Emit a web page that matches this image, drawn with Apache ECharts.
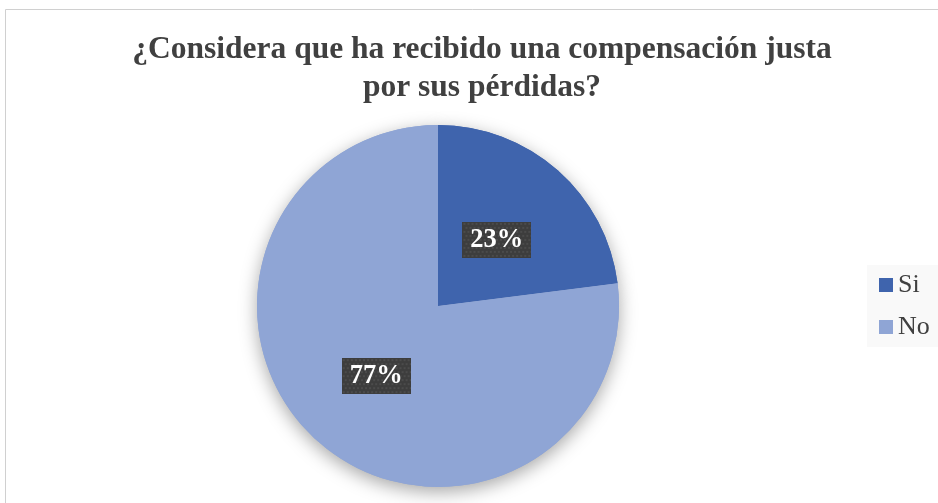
<!DOCTYPE html>
<html>
<head>
<meta charset="utf-8">
<script src="https://cdn.jsdelivr.net/npm/echarts@6/dist/echarts.min.js"></script>
<style>
html,body{margin:0;padding:0;background:#fff;}
#chart{width:938px;height:503px;}
</style>
</head>
<body>
<div id="chart"></div>
<script>
const titleText = '¿Considera que ha recibido una compensación justa\npor sus pérdidas?';
const categories = ['Si', 'No'];
const values = [23, 77];
const colors = ['#3F64AD', '#8FA5D5'];
const labelOffsets = [[-3, 4], [0, 0]];

function makePattern(w, h) {
  const c = document.createElement('canvas');
  c.width = w; c.height = h;
  const ctx = c.getContext('2d');
  ctx.fillStyle = '#3d3d3d';
  ctx.fillRect(0, 0, w, h);
  ctx.fillStyle = '#4b4b4b';
  for (let y = 1; y < h; y += 4) {
    for (let x = ((y - 1) / 4) % 2 ? 3 : 1; x < w; x += 4) {
      ctx.fillRect(x, y, 2, 2);
    }
  }
  return c;
}
const pattern = makePattern(68, 36);

const chart = echarts.init(document.getElementById('chart'), null, {renderer: 'canvas'});
const pieData = categories.map((n, i) => ({name: n, value: values[i], itemStyle: {color: colors[i]}}));
const pieDataLabeled = categories.map((n, i) => ({
  name: n, value: values[i], itemStyle: {color: colors[i]}, label: {offset: labelOffsets[i]}
}));

chart.setOption({
  animation: false,
  backgroundColor: '#ffffff',
  graphic: [{
    type: 'rect', silent: true, z: -10,
    shape: {x: 5.5, y: 9.5, width: 960, height: 520},
    style: {fill: null, stroke: '#d0d0d0', lineWidth: 1}
  }],
  title: {
    text: titleText,
    left: 477,
    top: 26,
    textAlign: 'center',
    textStyle: {
      fontFamily: 'Liberation Serif',
      fontWeight: 'bold',
      fontSize: 31.5,
      lineHeight: 38,
      color: '#404040'
    }
  },
  legend: {
    orient: 'vertical',
    left: 867,
    top: 265,
    padding: [7, 30, 7, 12],
    backgroundColor: '#f9f9f9',
    itemWidth: 14,
    itemHeight: 14,
    itemGap: 16,
    icon: 'rect',
    data: categories,
    textStyle: {fontFamily: 'Liberation Serif', fontSize: 26, color: '#404040'}
  },
  series: [{
    type: 'pie',
    silent: true,
    center: [438, 306],
    radius: 181,
    z: 1,
    data: pieData,
    label: {show: false},
    labelLine: {show: false},
    itemStyle: {shadowBlur: 18, shadowOffsetY: 5, shadowColor: 'rgba(0,0,0,0.35)'}
  }, {
    type: 'pie',
    center: [438, 306],
    radius: 181,
    z: 2,
    data: pieDataLabeled,
    labelLine: {show: false},
    label: {
      show: true,
      position: 'inside',
      formatter: '{d}%',
      fontFamily: 'Liberation Serif',
      fontWeight: 'bold',
      fontSize: 26.5,
      color: '#ffffff',
      lineHeight: 28,
      overflow: 'none',
      padding: [4, 8],
      backgroundColor: {image: pattern},
      shadowColor: 'rgba(0,0,0,0.5)',
      shadowBlur: 4,
      shadowOffsetX: 3,
      shadowOffsetY: 3
    }
  }]
});
</script>
</body>
</html>
